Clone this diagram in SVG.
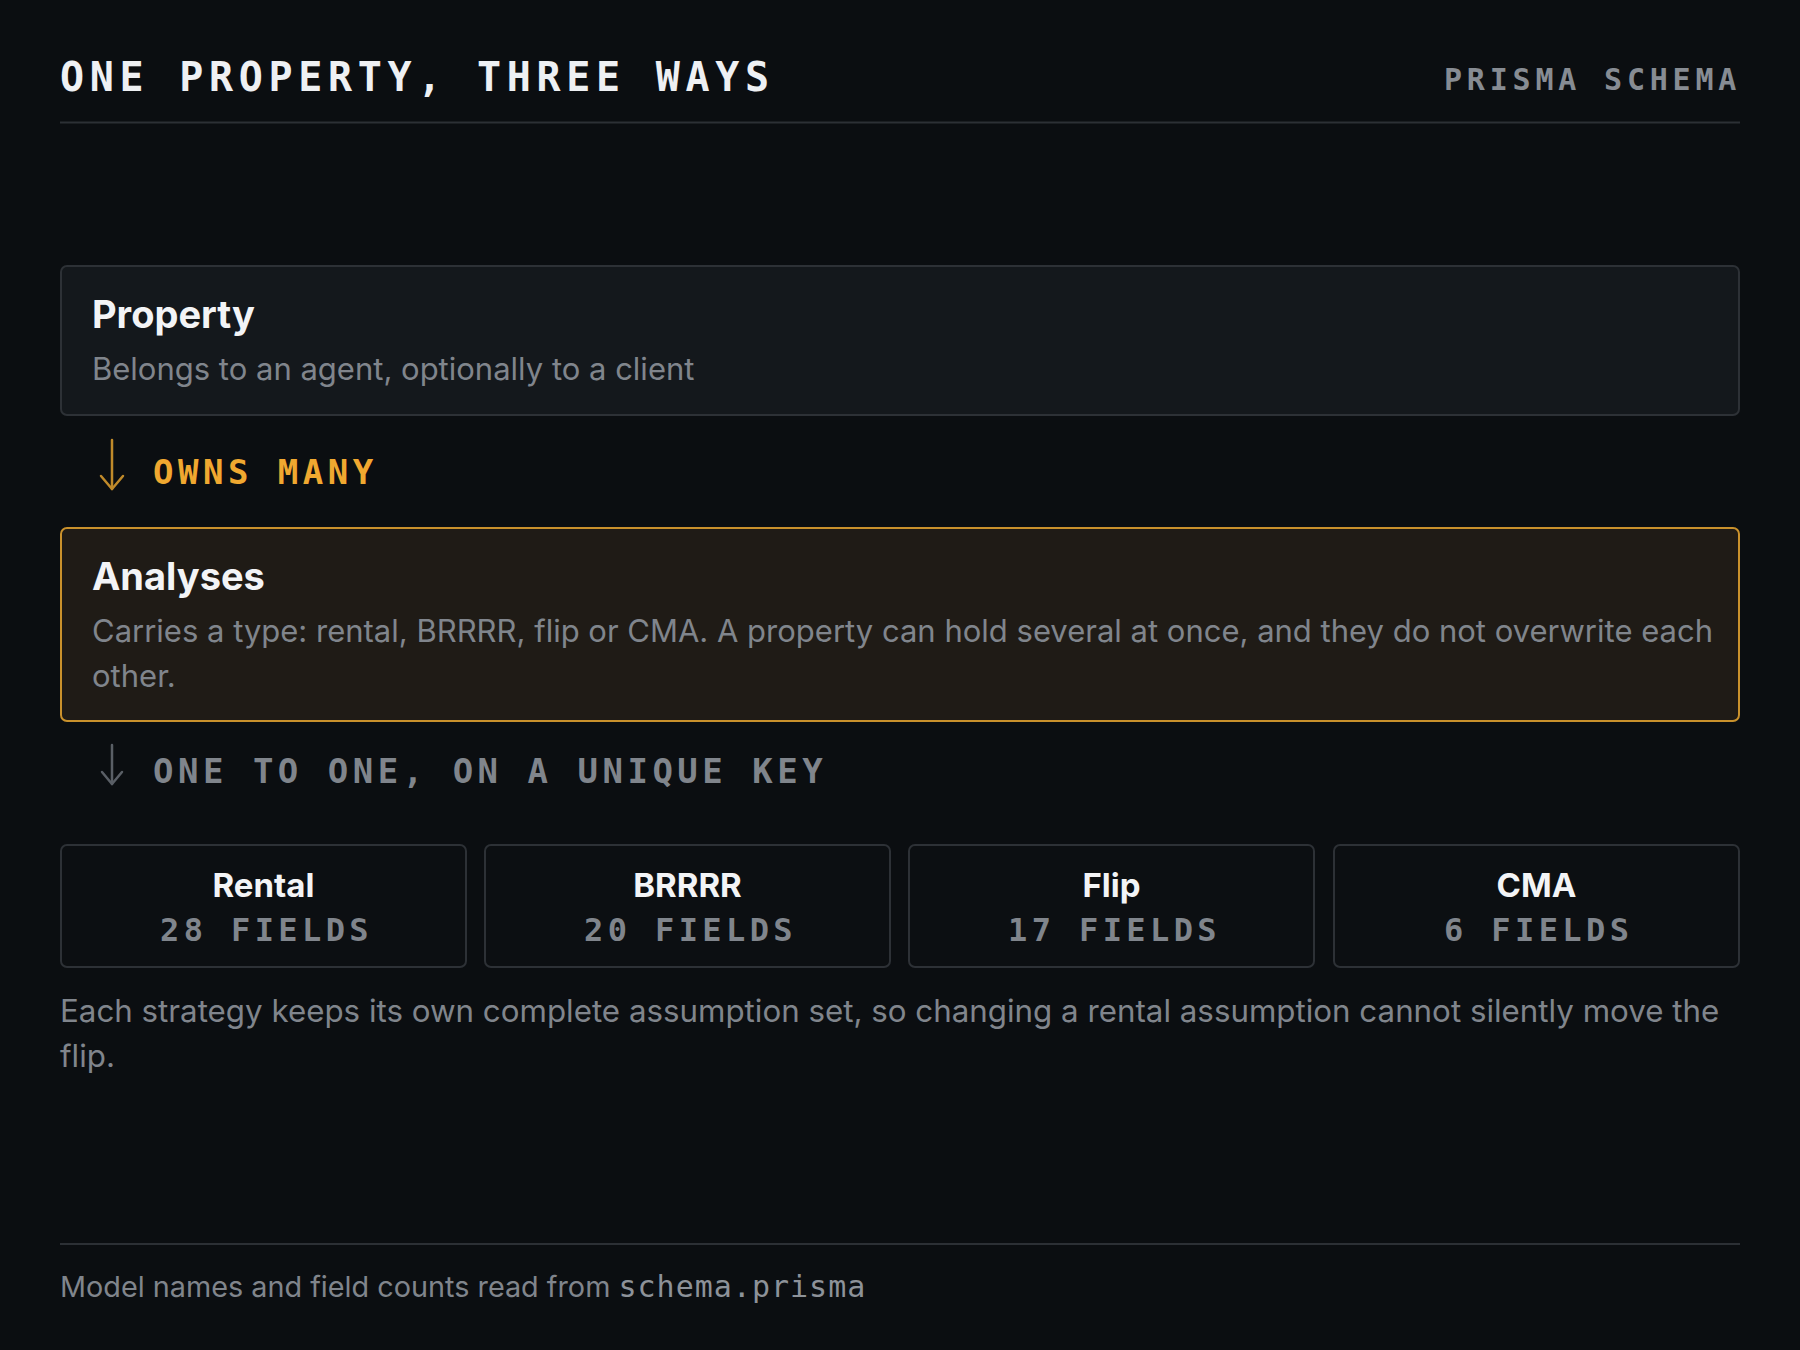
<svg xmlns="http://www.w3.org/2000/svg" width="1800" height="1350" viewBox="0 0 1800 1350">
<style>
.mono{font-family:"DejaVu Sans Mono","Liberation Mono",monospace}
.sans{font-family:Inter,"Liberation Sans",sans-serif}
.title{font-size:40px;font-weight:700;letter-spacing:5.7px;fill:#eef0f3}
.kicker{font-size:30px;font-weight:700;letter-spacing:4.8px;fill:#878c93}
.rule{stroke:#2c3035;stroke-width:2}
.card{fill:#14181c;stroke:#2d3136;stroke-width:2}
.hot{fill:#1f1b16;stroke:#c9912c;stroke-width:2}
.strat{fill:#0c0f12;stroke:#2d3136;stroke-width:2}
.h{font-size:38px;font-weight:700;fill:#f3f4f6}
.d{font-size:31px;fill:#80858c}
.rel{font-size:34px;font-weight:700;letter-spacing:4.5px}
.sh{font-size:33px;font-weight:700;fill:#f3f4f6}
.cnt{font-size:32px;font-weight:700;letter-spacing:4.4px;fill:#80858c}
.note{font-size:31.3px;fill:#80858c}
.foot{font-size:28.8px;fill:#80858c}
</style>
<rect width="1800" height="1350" fill="#0b0e11"/>
<g id="header">
<text class="mono title" x="60" y="91">ONE PROPERTY, THREE WAYS</text>
<text class="mono kicker" x="1444" y="90">PRISMA SCHEMA</text>
<line class="rule" x1="60" y1="122.5" x2="1740" y2="122.5"/>
</g>
<g id="property">
<rect class="card" x="61" y="266" width="1678" height="149" rx="6"/>
<text class="sans h" x="92" y="328">Property</text>
<text class="sans d" x="92" y="380">Belongs to an agent, optionally to a client</text>
</g>
<g id="connectors" fill="none" stroke-linecap="round" stroke-linejoin="round">
<g stroke="#c08a2a" stroke-width="2.5">
<path d="M112 440 V489"/>
<path d="M101 476 L112 489 L123 476"/>
</g>
<g stroke="#5a5f66" stroke-width="2.5">
<path d="M112 745 V784"/>
<path d="M102 772 L112 784 L122 772"/>
</g>
</g>
<g id="rel-labels">
<text class="mono rel" x="153" y="484" fill="#f0a830">OWNS MANY</text>
<text class="mono rel" x="153" y="783" fill="#80858c">ONE TO ONE, ON A UNIQUE KEY</text>
</g>
<g id="analyses">
<rect class="hot" x="61" y="528" width="1678" height="193" rx="6"/>
<text class="sans h" x="92" y="590">Analyses</text>
<text class="sans d" x="92" y="642">Carries a type: rental, BRRRR, flip or CMA. A property can hold several at once, and they do not overwrite each</text>
<text class="sans d" x="92" y="687">other.</text>
</g>
<g id="rental">
<rect class="strat" x="61" y="845" width="405" height="122" rx="6"/>
<text class="sans sh" x="263.5" y="897" text-anchor="middle">Rental</text>
<text class="mono cnt" x="160" y="941">28 FIELDS</text>
</g>
<g id="brrrr">
<rect class="strat" x="485" y="845" width="405" height="122" rx="6"/>
<text class="sans sh" x="687.5" y="897" text-anchor="middle">BRRRR</text>
<text class="mono cnt" x="584" y="941">20 FIELDS</text>
</g>
<g id="flip">
<rect class="strat" x="909" y="845" width="405" height="122" rx="6"/>
<text class="sans sh" x="1111.5" y="897" text-anchor="middle">Flip</text>
<text class="mono cnt" x="1008" y="941">17 FIELDS</text>
</g>
<g id="cma">
<rect class="strat" x="1334" y="845" width="405" height="122" rx="6"/>
<text class="sans sh" x="1536.5" y="897" text-anchor="middle">CMA</text>
<text class="mono cnt" x="1444" y="941">6 FIELDS</text>
</g>
<g id="note">
<text class="sans note" x="60" y="1022">Each strategy keeps its own complete assumption set, so changing a rental assumption cannot silently move the</text>
<text class="sans note" x="60" y="1067">flip.</text>
</g>
<g id="footer">
<line class="rule" x1="60" y1="1244" x2="1740" y2="1244"/>
<text class="sans foot" x="60" y="1297">Model names and field counts read from <tspan class="mono" font-size="30" fill="#8d9299" letter-spacing="1">schema.prisma</tspan></text>
</g>
</svg>
